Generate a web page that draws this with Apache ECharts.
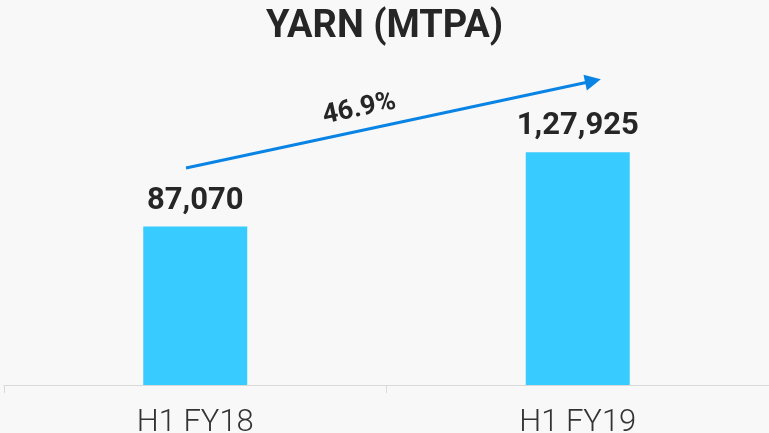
<!DOCTYPE html>
<html>
<head>
<meta charset="utf-8">
<script src="https://cdn.jsdelivr.net/npm/echarts@6/dist/echarts.min.js"></script>
<style>
  html, body { margin: 0; padding: 0; background: #f8f8f8; }
  #chart { width: 769px; height: 433px; }
</style>
</head>
<body>
<div id="chart"></div>
<script>
const categories = ['H1 FY18', 'H1 FY19']
const yarnValues = [87070, 127925]
const valueLabels = ['87,070', '1,27,925']
const growthLabel = '46.9%'

const chart = echarts.init(document.getElementById('chart'))

const option = {
  backgroundColor: '#f8f8f8',
  animation: false,
  title: {
    text: 'YARN (MTPA)',
    left: 'center',
    top: 3,
    textStyle: {
      fontFamily: 'Roboto',
      fontWeight: 'bold',
      fontSize: 38,
      color: '#262626',
    },
  },
  grid: { top: 112, right: 0, bottom: 48, left: 4, outerBoundsMode: 'none' },
  xAxis: {
    type: 'category',
    data: categories,
    axisLine: { lineStyle: { color: '#d9d9d9', width: 1 } },
    axisTick: { show: true, length: 8, lineStyle: { color: '#d9d9d9' } },
    axisLabel: {
      margin: 23,
      fontFamily: 'Roboto',
      fontWeight: 300,
      fontSize: 31,
      color: '#333333',
    },
  },
  yAxis: {
    type: 'value',
    min: 0,
    max: 150000,
    show: false,
    splitLine: { show: false },
  },
  series: [
    {
      type: 'bar',
      data: yarnValues,
      barWidth: 104,
      itemStyle: { color: '#38cbff' },
      label: {
        show: true,
        position: 'top',
        distance: 10,
        formatter: (p) => valueLabels[p.dataIndex],
        fontFamily: 'Roboto',
        fontWeight: 'bold',
        fontSize: 31,
        color: '#262626',
      },
      markLine: {
        silent: true,
        symbol: ['none', 'triangle'],
        symbolSize: [16, 16],
        lineStyle: { color: '#0a84e4', width: 3, type: 'solid' },
        label: {
          show: true,
          position: 'insideMiddleTop',
          formatter: growthLabel,
          fontFamily: 'Roboto',
          fontWeight: 'bold',
          fontSize: 27,
          color: '#262626',
          distance: 8,
          offset: [-28, 0],
        },
        data: [[{ x: 186, y: 168 }, { x: 593, y: 81 }]],
      },
    },
  ],
}

chart.setOption(option)
window.addEventListener('resize', () => chart.resize())
</script>
</body>
</html>
